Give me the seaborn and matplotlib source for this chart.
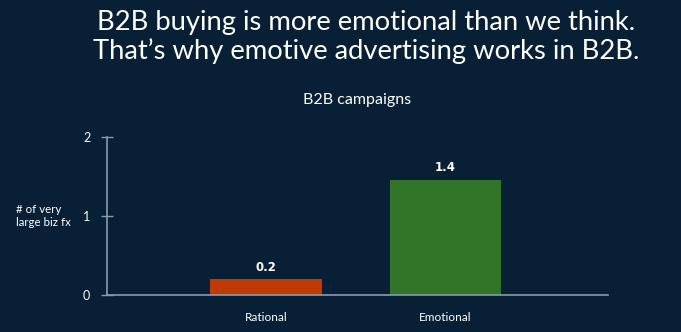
import matplotlib
matplotlib.use("Agg")
import matplotlib.pyplot as plt
import seaborn as sns
import pandas as pd

categories = ["Rational", "Emotional"]
values = [0.2, 1.46]
value_labels = ["0.2", "1.4"]
bar_colors = ["#c03a06", "#327428"]
y_ticks = [0, 1, 2]

BG = "#072036"
AXC = "#8c9bab"
TXT = "#ffffff"

sns.set_theme(style="white")
plt.rcParams["font.family"] = ["Lato", "DejaVu Sans"]

df = pd.DataFrame({"cat": categories, "val": values})

fig = plt.figure(figsize=(6.81, 3.32), dpi=100, facecolor=BG)
ax = fig.add_axes([107/681, 1 - 295/332, (608-107)/681, (295-137)/332])
ax.set_facecolor(BG)

sns.barplot(data=df, x="cat", y="val", hue="cat", palette=bar_colors,
            width=0.62, legend=False, ax=ax, saturation=1, linewidth=0)

for i, (v, lab) in enumerate(zip(values, value_labels)):
    ax.text(i, v + 0.07, lab, ha="center", va="bottom", color=TXT,
            fontsize=8.5, fontweight="bold", family="DejaVu Sans")

ax.set_xlim(-0.888, 1.91)
ax.set_ylim(0, 2)
ax.set_yticks(y_ticks)
ax.set_yticklabels([str(t) for t in y_ticks])
ax.tick_params(axis="y", direction="inout", length=8, width=1, color=AXC,
               labelcolor=TXT, labelsize=9, pad=8, left=True)
ax.tick_params(axis="x", length=0, labelcolor=TXT, labelsize=8.5, pad=12)
ax.set_xlabel("")
ax.set_ylabel("")
for s in ["top", "right"]:
    ax.spines[s].set_visible(False)
for s in ["left", "bottom"]:
    ax.spines[s].set_color(AXC)
    ax.spines[s].set_linewidth(1.2)

fig.text(16/681, 1 - 216/332, "# of very\nlarge biz fx", color=TXT, fontsize=8.3,
         ha="left", va="center", linespacing=1.2)
fig.text(357/681, 1 - 100/332, "B2B campaigns", color=TXT, fontsize=11.5,
         ha="center", va="center")
fig.text(366/681, 1 - 37/332,
         "B2B buying is more emotional than we think.\nThat\u2019s why emotive advertising works in B2B.",
         color=TXT, fontsize=19.7, ha="center", va="center", linespacing=1.2)

fig.savefig("out.png", dpi=100, facecolor=BG)
